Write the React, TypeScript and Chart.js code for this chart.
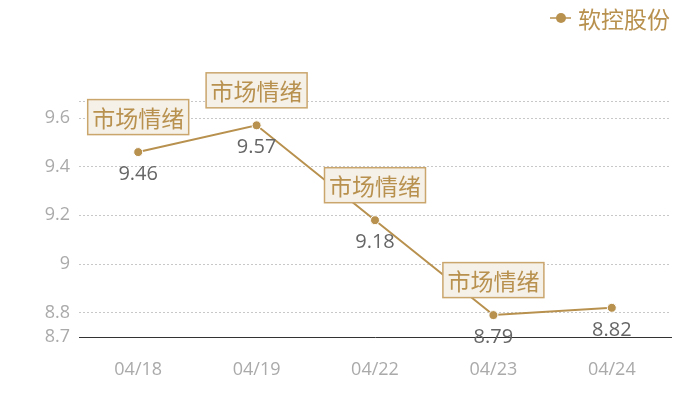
import { useEffect, useRef } from 'react';
import Chart from 'chart.js/auto';

const labels = ['04/18', '04/19', '04/22', '04/23', '04/24'];
const prices = [9.46, 9.57, 9.18, 8.79, 8.82];
const seriesName = '软控股份';
const markText = '市场情绪';
const markedPoints = [0, 1, 2, 3];
const yTicks = [8.7, 8.8, 9, 9.2, 9.4, 9.6];
const Y_MIN = 8.7;
const Y_MAX = 9.67;

const GOLD = '#b8914f';
const CJK = "'Noto Sans CJK SC', 'Noto Sans', sans-serif";
const NUM = "'Open Sans', 'Noto Sans', sans-serif";

const overlay = {
  id: 'overlay',
  afterDatasetsDraw(chart: Chart) {
    const { ctx } = chart;
    const meta = chart.getDatasetMeta(0);
    ctx.save();
    // value labels
    ctx.fillStyle = '#666';
    ctx.font = `20px ${NUM}`;
    ctx.textAlign = 'center';
    ctx.textBaseline = 'middle';
    meta.data.forEach((pt, i) => {
      ctx.fillText(String(prices[i]), pt.x, pt.y + 22);
    });
    // mark boxes
    ctx.font = `23px ${CJK}`;
    markedPoints.forEach((i) => {
      const pt = meta.data[i];
      const w = 101;
      const h = 35;
      const cx = pt.x;
      const cy = pt.y - 35;
      ctx.fillStyle = '#f5f0e8';
      ctx.fillRect(cx - w / 2, cy - h / 2, w, h);
      ctx.strokeStyle = '#caa66d';
      ctx.lineWidth = 1.5;
      ctx.strokeRect(cx - w / 2, cy - h / 2, w, h);
      ctx.fillStyle = GOLD;
      ctx.fillText(markText, cx, cy + 1);
    });
    // legend
    ctx.strokeStyle = GOLD;
    ctx.lineWidth = 1.5;
    ctx.beginPath();
    ctx.moveTo(550, 18);
    ctx.lineTo(571, 18);
    ctx.stroke();
    ctx.fillStyle = GOLD;
    ctx.beginPath();
    ctx.arc(561, 18, 5, 0, Math.PI * 2);
    ctx.fill();
    ctx.font = `23px ${CJK}`;
    ctx.textAlign = 'left';
    ctx.fillText(seriesName, 578, 19);
    ctx.restore();
  },
};

export default function App() {
  const canvasRef = useRef<HTMLCanvasElement>(null);
  const chartRef = useRef<Chart | null>(null);

  useEffect(() => {
    document.body.style.margin = '0';
    if (!canvasRef.current) return;
    if (chartRef.current) chartRef.current.destroy();

    chartRef.current = new Chart(canvasRef.current, {
      type: 'line',
      data: {
        labels,
        datasets: [
          {
            label: seriesName,
            data: prices,
            borderColor: GOLD,
            backgroundColor: GOLD,
            borderWidth: 2,
            pointRadius: 4.5,
            pointBorderColor: '#fff',
            pointBorderWidth: 1,
            pointBackgroundColor: GOLD,
            tension: 0,
          },
        ],
      },
      options: {
        responsive: true,
        maintainAspectRatio: false,
        animation: false,
        layout: { padding: { top: 101, right: 29, left: 0, bottom: 0 } },
        plugins: { legend: { display: false }, tooltip: { enabled: false } },
        scales: {
          x: {
            offset: true,
            grid: { display: false, drawTicks: false },
            border: { display: true, color: '#333', width: 1 },
            ticks: { color: '#aaa', font: { family: NUM, size: 18 }, padding: 22 },
            afterFit: (scale: any) => {
              scale.height = 63;
            },
          },
          y: {
            min: Y_MIN,
            max: Y_MAX,
            afterBuildTicks: (scale: any) => {
              scale.ticks = [...yTicks, Y_MAX].map((v) => ({ value: v }));
            },
            afterFit: (scale: any) => {
              scale.width = 79;
            },
            grid: {
              drawTicks: false,
              color: (c: any) => (c.tick && c.tick.value === Y_MIN ? 'rgba(0,0,0,0)' : '#c8c8c8'),
              lineWidth: 1,
            },
            border: { display: false, dash: [2, 2] },
            ticks: {
              color: '#aaa',
              font: { family: NUM, size: 18 },
              padding: 9,
              callback: (v: any) => (v === Y_MAX ? '' : String(Number(v))),
            },
          },
        },
      },
      plugins: [overlay],
    });

    return () => {
      chartRef.current?.destroy();
      chartRef.current = null;
    };
  }, []);

  return (
    <div style={{ position: 'relative', width: 700, height: 400 }}>
      <canvas ref={canvasRef} />
    </div>
  );
}
